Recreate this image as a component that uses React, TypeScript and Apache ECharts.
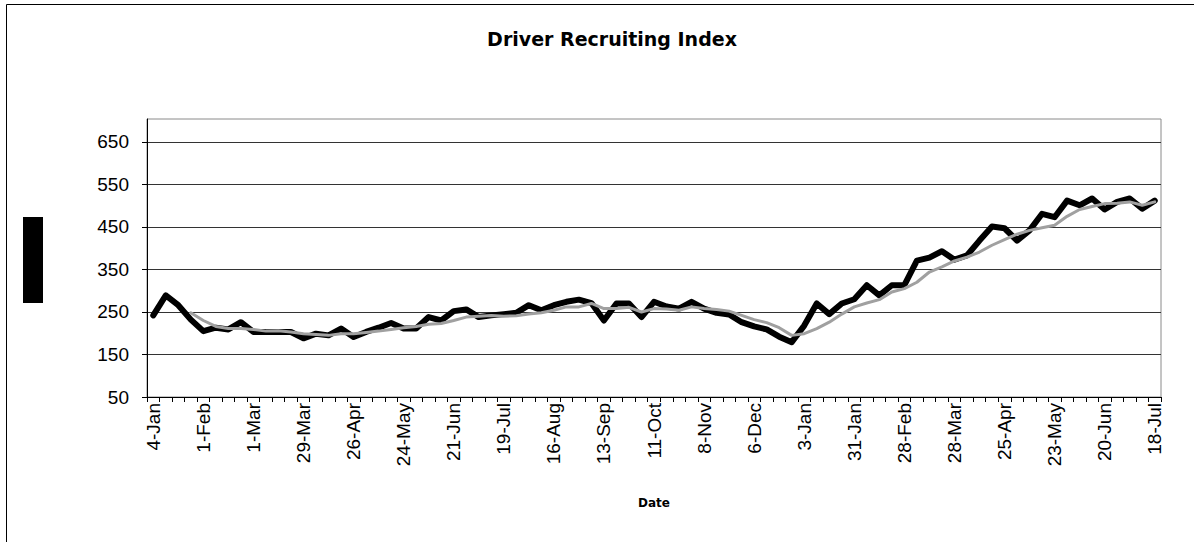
import React, { useEffect, useRef } from "react";
import * as echarts from "echarts";

const weeks = [
  "4-Jan", "11-Jan", "18-Jan", "25-Jan", "1-Feb", "8-Feb", "15-Feb", "22-Feb",
  "1-Mar", "8-Mar", "15-Mar", "22-Mar", "29-Mar", "5-Apr", "12-Apr", "19-Apr",
  "26-Apr", "3-May", "10-May", "17-May", "24-May", "31-May", "7-Jun", "14-Jun",
  "21-Jun", "28-Jun", "5-Jul", "12-Jul", "19-Jul", "26-Jul", "2-Aug", "9-Aug",
  "16-Aug", "23-Aug", "30-Aug", "6-Sep", "13-Sep", "20-Sep", "27-Sep", "4-Oct",
  "11-Oct", "18-Oct", "25-Oct", "1-Nov", "8-Nov", "15-Nov", "22-Nov", "29-Nov",
  "6-Dec", "13-Dec", "20-Dec", "27-Dec", "3-Jan", "10-Jan", "17-Jan", "24-Jan",
  "31-Jan", "7-Feb", "14-Feb", "21-Feb", "28-Feb", "7-Mar", "14-Mar", "21-Mar",
  "28-Mar", "4-Apr", "11-Apr", "18-Apr", "25-Apr", "2-May", "9-May", "16-May",
  "23-May", "30-May", "6-Jun", "13-Jun", "20-Jun", "27-Jun", "4-Jul", "11-Jul",
  "18-Jul",
];

const recruitingIndex = [
  242, 289, 266, 232, 205, 213, 209, 226, 203, 203,
  203, 203, 188, 199, 195, 211, 191, 203, 213, 224,
  211, 211, 238, 230, 252, 256, 238, 242, 245, 248,
  266, 254, 266, 274, 279, 271, 230, 270, 270, 238,
  274, 263, 258, 274, 258, 248, 244, 226, 216, 209,
  192, 179, 218, 270, 245, 270, 280, 313, 289, 313,
  313, 371, 378, 393, 373, 383, 418, 451, 447, 418,
  442, 481, 473, 512, 501, 517, 491, 509, 517, 493, 512,
];

const movingAverage = [
  null, null, null, 248, 230, 216, 211, 211, 209, 205,
  206, 203, 199, 197, 195, 199, 199, 202, 205, 209,
  213, 216, 221, 223, 230, 238, 240, 242, 240, 241,
  245, 248, 254, 262, 262, 270, 258, 258, 261, 250,
  258, 257, 254, 262, 258, 256, 252, 242, 232, 225,
  213, 195, 199, 211, 226, 245, 262, 271, 279, 297,
  305, 320, 344, 356, 370, 379, 391, 407, 420, 433,
  442, 448, 454, 475, 491, 498, 505, 506, 509, 501, 509,
];

const yTicks = [50, 150, 250, 350, 450, 550, 650];

export default function App() {
  const ref = useRef<HTMLDivElement>(null);

  useEffect(() => {
    if (!ref.current) return;
    const chart = echarts.init(ref.current, null, { renderer: "svg" });
    const axisFont = "Liberation Sans, Arial, sans-serif";
    chart.setOption({
      animation: false,
      backgroundColor: "#ffffff",
      graphic: [
        {
          type: "rect",
          shape: { x: 6.5, y: 4.5, width: 1300, height: 700 },
          style: { fill: "none", stroke: "#000", lineWidth: 1 },
          silent: true,
        },
        {
          type: "rect",
          shape: { x: 23, y: 217, width: 20, height: 86 },
          style: { fill: "#000" },
          silent: true,
        },
        {
          type: "text",
          x: 612,
          y: 39,
          style: {
            text: "Driver Recruiting Index",
            font: "bold 19px 'DejaVu Sans', sans-serif",
            fill: "#000",
            textAlign: "center",
            textVerticalAlign: "middle",
          },
        },
      ],
      grid: {
        left: 147,
        top: 119,
        right: 33,
        bottom: 145,
        show: true,
        borderColor: "#8a8a8a",
        borderWidth: 1,
        backgroundColor: "#fff",
      },
      xAxis: {
        type: "category",
        data: weeks,
        boundaryGap: true,
        name: "Date",
        nameLocation: "middle",
        nameGap: 100,
        nameTextStyle: {
          fontFamily: "'DejaVu Sans', sans-serif",
          fontWeight: "bold",
          fontSize: 12,
          color: "#000",
        },
        axisLine: { show: true, lineStyle: { color: "#000", width: 1 } },
        axisTick: {
          show: true,
          interval: 0,
          length: 5,
          lineStyle: { color: "#000" },
        },
        axisLabel: {
          interval: 3,
          rotate: 90,
          margin: 6,
          fontFamily: axisFont,
          fontSize: 19,
          color: "#000",
        },
        splitLine: { show: false },
      },
      yAxis: {
        type: "value",
        min: 50,
        max: 704,
        axisLine: { show: true, lineStyle: { color: "#000", width: 1 } },
        axisTick: {
          show: true,
          length: 5,
          customValues: yTicks,
          lineStyle: { color: "#000" },
        },
        axisLabel: {
          customValues: yTicks,
          margin: 18,
          fontFamily: axisFont,
          fontSize: 19,
          color: "#000",
        },
        splitLine: { show: true, lineStyle: { color: "#333", width: 1 } },
      },
      series: [
        {
          name: "Index",
          type: "line",
          data: recruitingIndex,
          symbol: "none",
          lineStyle: { color: "#000", width: 6, cap: "round", join: "round" },
          z: 2,
        },
        {
          name: "Moving average",
          type: "line",
          data: movingAverage,
          symbol: "none",
          connectNulls: false,
          lineStyle: { color: "#a0a0a0", width: 3, cap: "round", join: "round" },
          z: 3,
        },
      ],
    });
    return () => chart.dispose();
  }, []);

  return (
    <div
      ref={ref}
      style={{ position: "fixed", left: 0, top: 0, width: 1194, height: 542 }}
    />
  );
}
